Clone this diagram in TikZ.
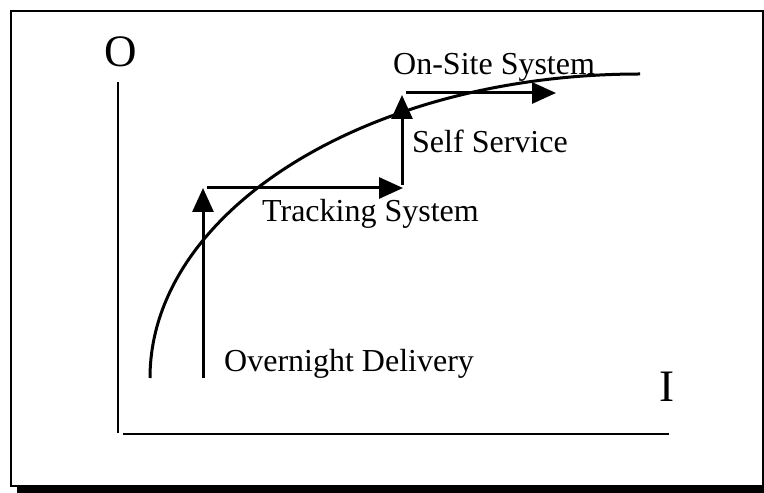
\documentclass[tikz,border=0pt]{standalone}
\usepackage{fontspec}
\setmainfont{Liberation Serif}
\usetikzlibrary{arrows.meta}
\begin{document}
\begin{tikzpicture}[x=1pt,y=1pt,
  axisline/.style={line width=2.8pt},
  stepline/.style={line width=3pt,-{Triangle[length=24pt,width=21pt]}},
  curveline/.style={line width=3pt},
  lbl/.style={anchor=base west,inner sep=0pt,font=\fontsize{32}{36}\selectfont},
  axlbl/.style={inner sep=0pt,font=\fontsize{45}{50}\selectfont}]
\useasboundingbox (0,0) rectangle (764,493);
% frame with drop shadow
\fill[black] (17,0) rectangle (764,7);
\draw[line width=2.4pt] (11,7) rectangle (763,482);
% axes
\coordinate (ytop) at (118,411);
\coordinate (ybot) at (118,60);
\coordinate (xl) at (123,59);
\coordinate (xr) at (669,59);
\draw[axisline] (ybot) -- (ytop);
\draw[axisline] (xl) -- (xr);
\node[axlbl] (olbl) at (121,441) {O};
\node[axlbl] (ilbl) at (667,106) {I};
% curve
\coordinate (cstart) at (150,115);
\draw[curveline] (cstart) arc[start angle=180,end angle=90,x radius=490,y radius=304];
% staircase of arrows
\coordinate (a0) at (203,115);
\coordinate (a1) at (203,305);
\coordinate (b0) at (207,305);
\coordinate (b1) at (403,305);
\coordinate (c0) at (402,308);
\coordinate (c1) at (402,398);
\coordinate (d0) at (406,400);
\coordinate (d1) at (556,400);
\draw[stepline] (a0) -- (a1);
\draw[stepline] (b0) -- (b1);
\draw[stepline] (c0) -- (c1);
\draw[stepline] (d0) -- (d1);
% labels
\node[lbl] (onsite) at (393,418) {On-Site System};
\node[lbl] (self) at (412,340) {Self Service};
\node[lbl] (track) at (262,271) {Tracking System};
\node[lbl] (night) at (224,121) {Overnight Delivery};
\end{tikzpicture}
\end{document}
